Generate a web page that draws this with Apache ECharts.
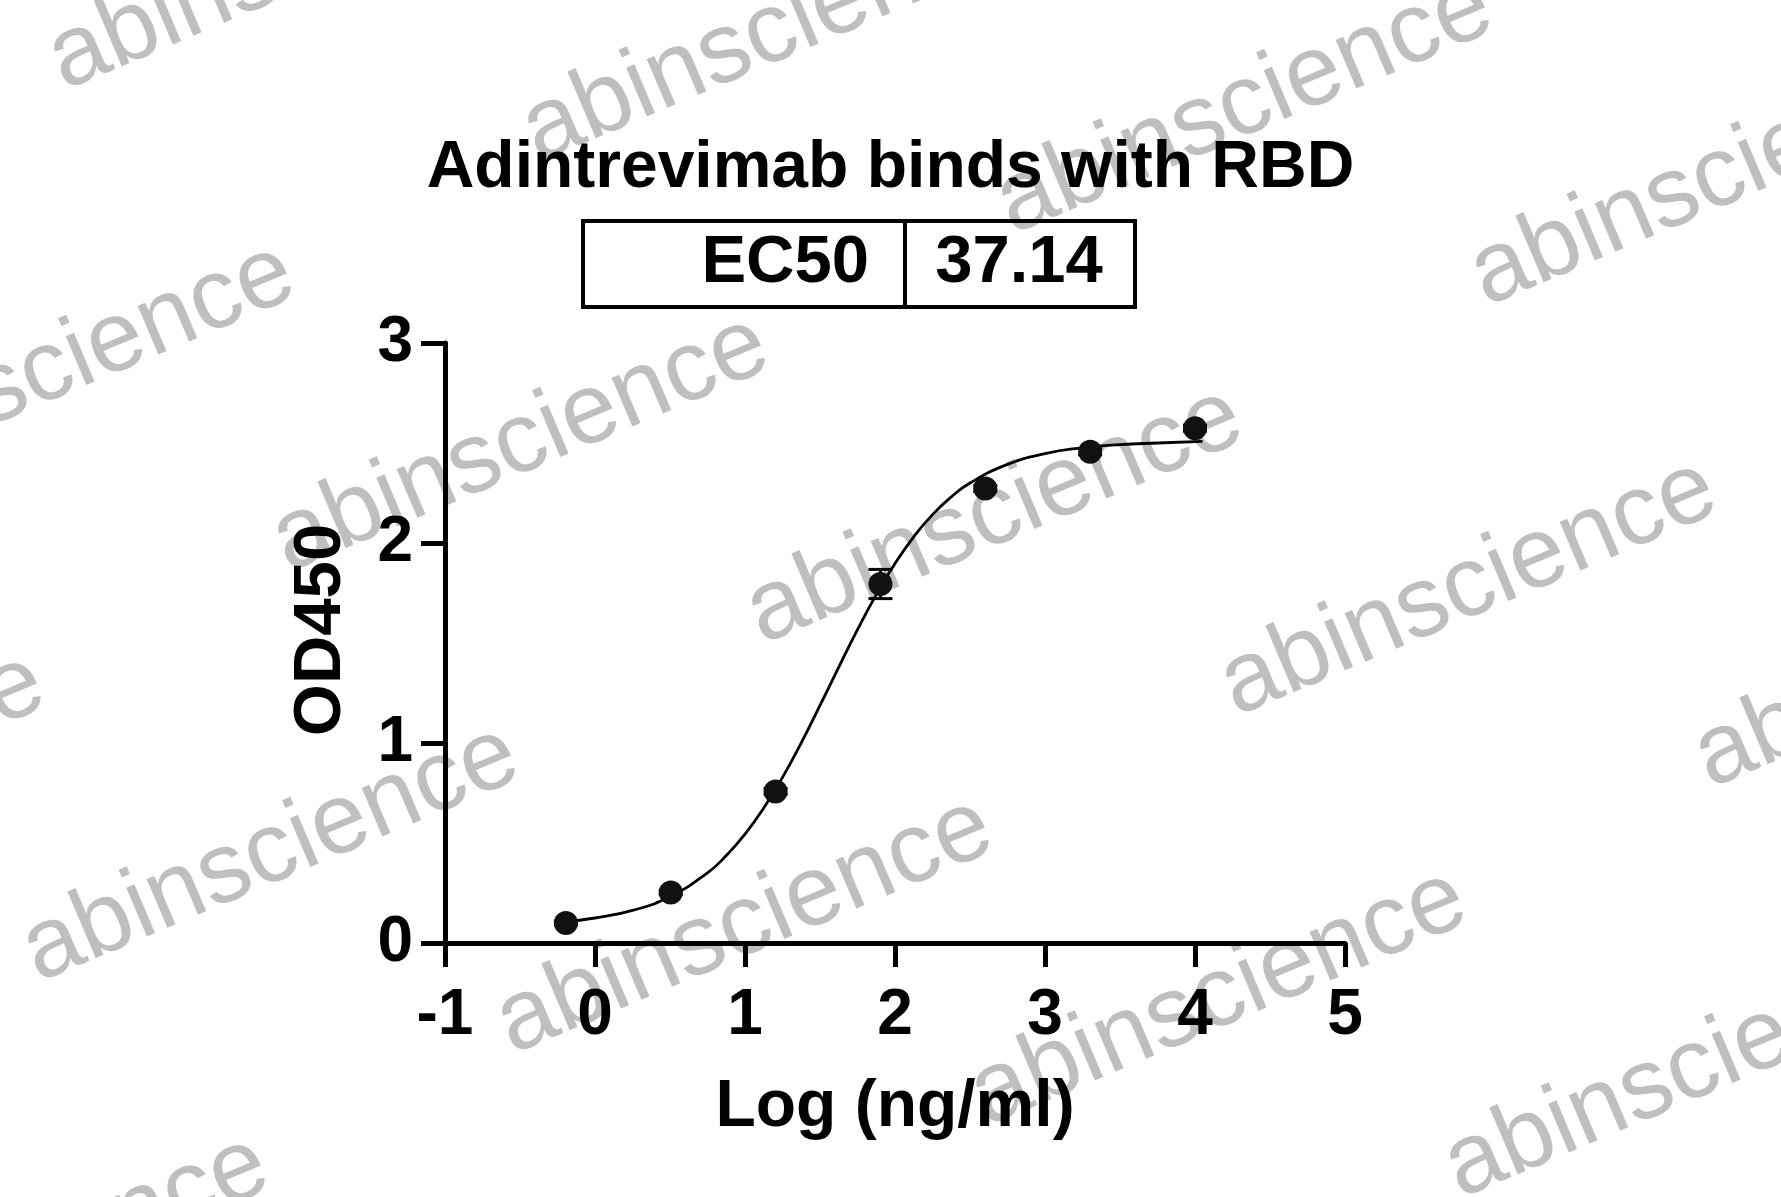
<!DOCTYPE html>
<html>
<head>
<meta charset="utf-8">
<script src="https://cdn.jsdelivr.net/npm/echarts@6/dist/echarts.min.js"></script>
<style>
html,body{margin:0;padding:0;background:#fff;}
#chart{width:1781px;height:1197px;}
</style>
</head>
<body>
<div id="chart"></div>
<script>
// ---- data ----
const chartTitle = 'Adintrevimab binds with RBD';
const ec50Label = 'EC50';
const ec50Value = '37.14';
const xAxisName = 'Log (ng/ml)';
const yAxisName = 'OD450';
// log10 concentration of each measured point
const logConc = [-0.194, 0.505, 1.204, 1.903, 2.602, 3.301, 4.0];
// mean OD450
const od450 = [0.10, 0.253, 0.758, 1.795, 2.273, 2.456, 2.574];
// error (SD) of each point
const od450Err = [0.01, 0.01, 0.015, 0.073, 0.015, 0.015, 0.015];
// fitted curve
const fitX = [-0.2, 0, 0.25, 0.5, 0.75, 0.875, 1.0, 1.125, 1.25, 1.375, 1.5, 1.625, 1.75, 1.875, 2.0, 2.125, 2.25, 2.375, 2.5, 2.75, 3.0, 3.25, 3.5, 3.75, 4.05];
const fitY = [0.107, 0.125, 0.163, 0.232, 0.351, 0.437, 0.544, 0.675, 0.828, 1.001, 1.188, 1.379, 1.567, 1.742, 1.898, 2.031, 2.142, 2.230, 2.300, 2.393, 2.447, 2.476, 2.492, 2.500, 2.508];
const xTicks = {min: -1, max: 5, interval: 1};
const yTicks = {min: 0, max: 3, interval: 1};
const watermarkText = 'abinscience';

const FONT = "'Liberation Sans', Arial, Helvetica, sans-serif";
const chart = echarts.init(document.getElementById('chart'), null, {renderer: 'canvas'});

const points = logConc.map((x, i) => [x, od450[i]]);
const errData = logConc.map((x, i) => [x, od450[i] - od450Err[i], od450[i] + od450Err[i]]);
const curve = fitX.map((x, i) => [x, fitY[i]]);

// watermark lattice (decoration, drawn behind the chart)
const wm = [];
const theta = 23 * Math.PI / 180;
const O = [291, 579], A = [474, 72], B = [-250, 410];
for (let j = -2; j <= 2; j++) {
  for (let i = -1; i <= 4; i++) {
    const px = O[0] + i * A[0] + j * B[0];
    const py = O[1] + i * A[1] + j * B[1];
    if (px > 1800 || py < -20 || py > 1450) continue;
    wm.push({
      type: 'text',
      x: px - 34.6 * Math.sin(theta),
      y: py - 34.6 * Math.cos(theta),
      rotation: theta,
      z: -10,
      silent: true,
      style: {
        text: watermarkText,
        fontSize: 100,
        fontFamily: FONT,
        fill: '#bfbfbf',
        align: 'left',
        verticalAlign: 'middle'
      }
    });
  }
}

const option = {
  backgroundColor: '#ffffff',
  animation: false,
  title: {
    text: chartTitle,
    left: 'center',
    top: 131,
    z: 10,
    textStyle: {fontSize: 66, fontWeight: 'bold', color: '#000', fontFamily: FONT}
  },
  grid: {left: 445, right: 436, top: 343, bottom: 254, containLabel: false},
  xAxis: {
    type: 'value',
    min: xTicks.min, max: xTicks.max, interval: xTicks.interval,
    name: xAxisName,
    nameLocation: 'middle',
    nameGap: 132,
    nameTextStyle: {fontSize: 66, fontWeight: 'bold', color: '#000', fontFamily: FONT},
    axisLine: {show: true, onZero: false, lineStyle: {color: '#000', width: 5}},
    axisTick: {show: true, length: 24, lineStyle: {color: '#000', width: 5}},
    axisLabel: {fontSize: 64, fontWeight: 'bold', color: '#000', fontFamily: FONT, margin: 41},
    splitLine: {show: false}
  },
  yAxis: {
    type: 'value',
    min: yTicks.min, max: yTicks.max, interval: yTicks.interval,
    name: yAxisName,
    nameLocation: 'middle',
    nameRotate: 90,
    nameGap: 90,
    nameTextStyle: {fontSize: 67, fontWeight: 'bold', color: '#000', fontFamily: FONT, padding: [0, 0, 0, 26]},
    axisLine: {show: true, onZero: false, lineStyle: {color: '#000', width: 5}},
    axisTick: {show: true, length: 24, lineStyle: {color: '#000', width: 5}},
    axisLabel: {fontSize: 64, fontWeight: 'bold', color: '#000', fontFamily: FONT, margin: 32},
    splitLine: {show: false}
  },
  series: [
    {
      type: 'line',
      data: curve,
      smooth: true,
      showSymbol: false,
      lineStyle: {color: '#000', width: 2.8},
      z: 2
    },
    {
      type: 'custom',
      data: errData,
      z: 3,
      renderItem: function (params, api) {
        const x = api.value(0);
        const lo = api.coord([x, api.value(1)]);
        const hi = api.coord([x, api.value(2)]);
        const hw = 12;
        const st = {stroke: '#000', lineWidth: 3};
        return {
          type: 'group',
          children: [
            {type: 'line', shape: {x1: lo[0], y1: lo[1], x2: hi[0], y2: hi[1]}, style: st},
            {type: 'line', shape: {x1: lo[0] - hw, y1: lo[1], x2: lo[0] + hw, y2: lo[1]}, style: st},
            {type: 'line', shape: {x1: hi[0] - hw, y1: hi[1], x2: hi[0] + hw, y2: hi[1]}, style: st}
          ]
        };
      }
    },
    {
      type: 'scatter',
      data: points,
      symbol: 'circle',
      symbolSize: 24,
      itemStyle: {color: '#111', opacity: 1},
      z: 4
    }
  ],
  graphic: [
    {
      type: 'rect',
      shape: {x: 583, y: 221, width: 552, height: 86},
      style: {fill: 'none', stroke: '#000', lineWidth: 4},
      z: 10
    },
    {
      type: 'line',
      shape: {x1: 905, y1: 221, x2: 905, y2: 307},
      style: {stroke: '#000', lineWidth: 4},
      z: 10
    },
    {
      type: 'text',
      x: 869, y: 264,
      z: 10,
      style: {text: ec50Label, fontSize: 67, fontWeight: 'bold', fontFamily: FONT, fill: '#000', align: 'right', verticalAlign: 'middle'}
    },
    {
      type: 'text',
      x: 1019, y: 264,
      z: 10,
      style: {text: ec50Value, fontSize: 67, fontWeight: 'bold', fontFamily: FONT, fill: '#000', align: 'center', verticalAlign: 'middle'}
    }
  ].concat(wm)
};
chart.setOption(option);
</script>
</body>
</html>
